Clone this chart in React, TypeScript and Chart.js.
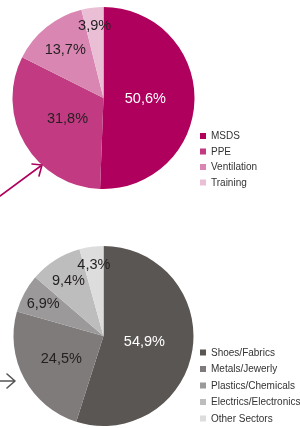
import React, { useEffect, useRef } from "react";
import { Chart, registerables } from "chart.js";

Chart.register(...registerables);

const topLabels = ["MSDS", "PPE", "Ventilation", "Training"];
const topValues = [50.6, 31.8, 13.7, 3.9];
const topColors = ["#b0005e", "#c23a82", "#d986b2", "#eabfd6"];

const bottomLabels = ["Shoes/Fabrics", "Metals/Jewerly", "Plastics/Chemicals", "Electrics/Electronics", "Other Sectors"];
const bottomValues = [54.9, 24.5, 6.9, 9.4, 4.3];
const bottomColors = ["#5a5654", "#7e7b7a", "#9b9999", "#bebdbd", "#dedddd"];

const FONT = '"Liberation Sans", Arial, Helvetica, sans-serif';

const sliceLabels = {
  id: "sliceLabels",
  afterDatasetsDraw(chart: any) {
    const ctx = chart.ctx;
    const ds = chart.data.datasets[0];
    const vals: number[] = ds.data;
    const total = vals.reduce((a, b) => a + b, 0);
    const meta = chart.getDatasetMeta(0);
    ctx.save();
    ctx.font = `14.5px ${FONT}`;
    ctx.textAlign = "center";
    ctx.textBaseline = "middle";
    meta.data.forEach((arc: any, i: number) => {
      const { x, y, startAngle, endAngle, outerRadius } = arc.getProps(
        ["x", "y", "startAngle", "endAngle", "outerRadius"],
        true
      );
      const mid = (startAngle + endAngle) / 2;
      const p = vals[i] / total;
      const frac = Math.min(0.8, Math.max(0.46, 0.85 - 1.3 * p));
      const r = outerRadius * frac;
      ctx.fillStyle = i === 0 ? "#ffffff" : "#231f20";
      const txt = vals[i].toFixed(1).replace(".", ",") + "%";
      ctx.fillText(txt, x + Math.cos(mid) * r, y + Math.sin(mid) * r);
    });
    ctx.restore();
  },
};

const sideLegend = {
  id: "sideLegend",
  afterDraw(chart: any, _args: any, opts: any) {
    const ctx = chart.ctx;
    const labels: string[] = chart.data.labels;
    const colors: string[] = chart.data.datasets[0].backgroundColor;
    ctx.save();
    ctx.font = `10px ${FONT}`;
    ctx.textBaseline = "middle";
    ctx.textAlign = "left";
    labels.forEach((lab, i) => {
      const cy = opts.y + i * opts.step;
      ctx.fillStyle = colors[i];
      ctx.fillRect(opts.x, cy - 3, 6, 6);
      ctx.fillStyle = "#333333";
      ctx.fillText(lab, opts.x + 11, cy + 0.5);
    });
    ctx.restore();
  },
};

const arrowDeco = {
  id: "arrowDeco",
  afterDraw(chart: any, _args: any, opts: any) {
    if (!opts || !opts.pts) return;
    const ctx = chart.ctx;
    const [x0, y0, x1, y1, bx1, by1, bx2, by2] = opts.pts;
    ctx.save();
    ctx.strokeStyle = opts.color;
    ctx.lineWidth = 1.6;
    ctx.lineCap = "round";
    ctx.lineJoin = "round";
    ctx.beginPath();
    ctx.moveTo(x0, y0);
    ctx.lineTo(x1, y1);
    ctx.moveTo(bx1, by1);
    ctx.lineTo(x1, y1);
    ctx.lineTo(bx2, by2);
    ctx.stroke();
    ctx.restore();
  },
};

function PieBlock(props: {
  labels: string[];
  values: number[];
  colors: string[];
  padding: { left: number; right: number; top: number; bottom: number };
  legend: { x: number; y: number; step: number };
  arrow: { pts: number[]; color: string };
}) {
  const ref = useRef<HTMLCanvasElement | null>(null);
  useEffect(() => {
    if (!ref.current) return;
    const chart = new Chart(ref.current, {
      type: "pie",
      data: {
        labels: props.labels,
        datasets: [
          {
            data: props.values,
            backgroundColor: props.colors,
            borderWidth: 0,
          },
        ],
      },
      options: {
        responsive: false,
        animation: false,
        devicePixelRatio: 1,
        layout: { padding: props.padding },
        plugins: {
          legend: { display: false },
          tooltip: { enabled: false },
          sideLegend: props.legend,
          arrowDeco: props.arrow,
        } as any,
      },
      plugins: [sliceLabels, sideLegend, arrowDeco],
    });
    return () => chart.destroy();
  }, []);
  return <canvas ref={ref} width={300} height={214} style={{ display: "block", width: 300, height: 214 }} />;
}

export default function App() {
  return (
    <div style={{ position: "absolute", left: 0, top: 0, width: 300, height: 428, background: "#fff" }}>
      <PieBlock
        labels={topLabels}
        values={topValues}
        colors={topColors}
        padding={{ left: 12.5, right: 105.5, top: 7, bottom: 25 }}
        legend={{ x: 200, y: 136, step: 15.5 }}
        arrow={{ pts: [0, 196, 42, 165, 32, 164, 39, 176], color: "#b0005e" }}
      />
      <PieBlock
        labels={bottomLabels}
        values={bottomValues}
        colors={bottomColors}
        padding={{ left: 13.5, right: 106.5, top: 32, bottom: 2 }}
        legend={{ x: 200, y: 138.5, step: 16.5 }}
        arrow={{ pts: [0, 167, 15, 167, 7, 160, 7, 174], color: "#555555" }}
      />
    </div>
  );
}
